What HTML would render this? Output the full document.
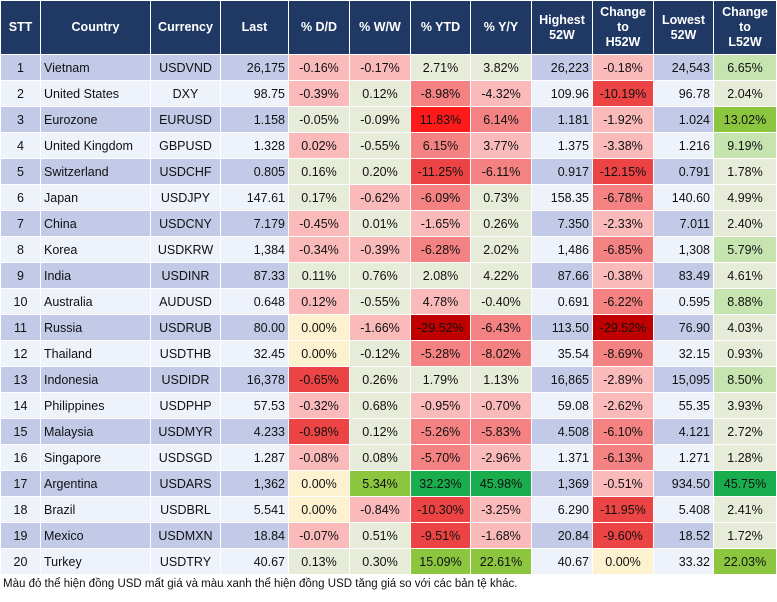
<!DOCTYPE html>
<html><head><meta charset="utf-8"><style>
body{margin:0;background:#fff;width:777px;height:602px;overflow:hidden;font-family:"Liberation Sans",Arial,sans-serif;}
table{border-collapse:collapse;table-layout:fixed;width:776px;position:absolute;left:0;top:0;}
td,th{border:1px solid #fff;padding:0 3px;font-size:12.5px;color:#111;white-space:nowrap;overflow:hidden;}
th{background:#1f3864;color:#fff;font-weight:bold;height:53px;text-align:center;line-height:15px;}
td{height:25px;}
tr.o td.s{background:#c3cae8}
tr.e td.s{background:#eef2fa}
td.c{text-align:center}td.r{text-align:right}td.l{text-align:left}
.N{background:#e6ecd8;text-align:center}.Y{background:#fdf2cf;text-align:center}
.P1{background:#fbbaba;text-align:center}.P2{background:#f58282;text-align:center}.P3{background:#ec4444;text-align:center}
.P4{background:#ff1a1a;text-align:center}.P5{background:#c00000;text-align:center}
.G1{background:#c6e4b0;text-align:center}.G3{background:#8cc63f;text-align:center}.G4{background:#1aad4e;text-align:center}
#cap{position:absolute;left:3px;top:578px;font-size:11.5px;color:#111;}
</style></head><body>
<table>
<colgroup><col style="width:40px"><col style="width:110px"><col style="width:70px"><col style="width:68px"><col style="width:61px"><col style="width:61px"><col style="width:60px"><col style="width:61px"><col style="width:61px"><col style="width:61px"><col style="width:60px"><col style="width:63px"></colgroup>
<thead><tr>
<th>STT</th><th>Country</th><th>Currency</th><th>Last</th><th>% D/D</th><th>% W/W</th><th>% YTD</th><th>% Y/Y</th><th>Highest<br>52W</th><th>Change<br>to<br>H52W</th><th>Lowest<br>52W</th><th>Change<br>to<br>L52W</th>
</tr></thead>
<tbody id="tb"></tbody></table>
<div id="cap">Màu đỏ thể hiện đồng USD mất giá và màu xanh thể hiện đồng USD tăng giá so với các bản tệ khác.</div>
<script>
const rows=[
["Vietnam","USDVND","26,175","-0.16%","-0.17%","2.71%","3.82%","26,223","-0.18%","24,543","6.65%"],
["United States","DXY","98.75","-0.39%","0.12%","-8.98%","-4.32%","109.96","-10.19%","96.78","2.04%"],
["Eurozone","EURUSD","1.158","-0.05%","-0.09%","11.83%","6.14%","1.181","-1.92%","1.024","13.02%"],
["United Kingdom","GBPUSD","1.328","0.02%","-0.55%","6.15%","3.77%","1.375","-3.38%","1.216","9.19%"],
["Switzerland","USDCHF","0.805","0.16%","0.20%","-11.25%","-6.11%","0.917","-12.15%","0.791","1.78%"],
["Japan","USDJPY","147.61","0.17%","-0.62%","-6.09%","0.73%","158.35","-6.78%","140.60","4.99%"],
["China","USDCNY","7.179","-0.45%","0.01%","-1.65%","0.26%","7.350","-2.33%","7.011","2.40%"],
["Korea","USDKRW","1,384","-0.34%","-0.39%","-6.28%","2.02%","1,486","-6.85%","1,308","5.79%"],
["India","USDINR","87.33","0.11%","0.76%","2.08%","4.22%","87.66","-0.38%","83.49","4.61%"],
["Australia","AUDUSD","0.648","0.12%","-0.55%","4.78%","-0.40%","0.691","-6.22%","0.595","8.88%"],
["Russia","USDRUB","80.00","0.00%","-1.66%","-29.52%","-6.43%","113.50","-29.52%","76.90","4.03%"],
["Thailand","USDTHB","32.45","0.00%","-0.12%","-5.28%","-8.02%","35.54","-8.69%","32.15","0.93%"],
["Indonesia","USDIDR","16,378","-0.65%","0.26%","1.79%","1.13%","16,865","-2.89%","15,095","8.50%"],
["Philippines","USDPHP","57.53","-0.32%","0.68%","-0.95%","-0.70%","59.08","-2.62%","55.35","3.93%"],
["Malaysia","USDMYR","4.233","-0.98%","0.12%","-5.26%","-5.83%","4.508","-6.10%","4.121","2.72%"],
["Singapore","USDSGD","1.287","-0.08%","0.08%","-5.70%","-2.96%","1.371","-6.13%","1.271","1.28%"],
["Argentina","USDARS","1,362","0.00%","5.34%","32.23%","45.98%","1,369","-0.51%","934.50","45.75%"],
["Brazil","USDBRL","5.541","0.00%","-0.84%","-10.30%","-3.25%","6.290","-11.95%","5.408","2.41%"],
["Mexico","USDMXN","18.84","-0.07%","0.51%","-9.51%","-1.68%","20.84","-9.60%","18.52","1.72%"],
["Turkey","USDTRY","40.67","0.13%","0.30%","15.09%","22.61%","40.67","0.00%","33.32","22.03%"]];
const cls=[
"P1 P1 N N P1 G1","P1 N P2 P1 P3 N","N N P4 P2 P1 G3","P1 N P2 P1 P1 G1","N N P3 P2 P3 N",
"N P1 P2 N P2 N","P1 N P1 N P1 N","P1 P1 P2 N P2 G1","N N N N P1 N","P1 N P1 N P2 G1",
"Y P1 P5 P2 P5 N","Y N P2 P2 P2 N","P3 N N N P1 G1","P1 N P1 P1 P1 N","P3 N P2 P2 P2 N",
"P1 N P2 P1 P2 N","Y G3 G4 G4 P1 G4","Y P1 P3 P1 P3 N","P1 N P3 P1 P3 N","N N G3 G3 Y G3"];
const names=["stt","country","currency","last","dd","ww","ytd","yy","high52","chg-h52","low52","chg-l52"];
const tb=document.getElementById('tb');
rows.forEach((r,i)=>{
 const tr=document.createElement('tr');
 tr.className=i%2?'e':'o';
 
 
 const c=cls[i].split(' ');
 const vals=[String(i+1)].concat(r);
 vals.forEach((v,j)=>{
  const td=document.createElement('td');
  td.textContent=v;
  
  
  if(j===0)td.className='s c';
  else if(j===1)td.className='s l';
  else if(j===2)td.className='s c';
  else if(j===3||j===8||j===10)td.className='s r';
  else{const k=[4,5,6,7,9,11].indexOf(j);td.className=c[k];}
  tr.appendChild(td);
 });
 tb.appendChild(tr);
});
</script>
</body></html>
